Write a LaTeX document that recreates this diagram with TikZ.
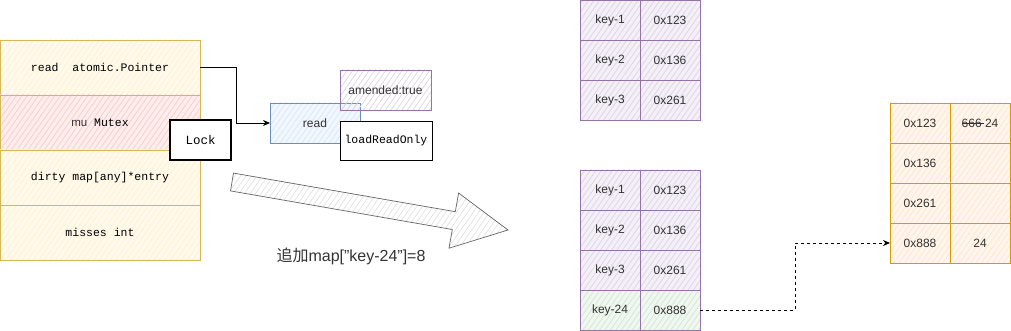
\documentclass[tikz,border=0pt]{standalone}
\usepackage{fontspec}
\setmainfont{Liberation Sans}
\setmonofont{Liberation Mono}
\newfontfamily\cjk{Noto Sans CJK SC}
\usetikzlibrary{arrows.meta,patterns.meta}
\definecolor{ystroke}{HTML}{D6B656}
\definecolor{yfill}{HTML}{FFF2CC}
\definecolor{rfill}{HTML}{F8CECC}
\definecolor{pstroke}{HTML}{9673A6}
\definecolor{pfill}{HTML}{E1D5E7}
\definecolor{bstroke}{HTML}{6C8EBF}
\definecolor{bfill}{HTML}{DAE8FC}
\definecolor{ostroke}{HTML}{D79B00}
\definecolor{ofill}{HTML}{FFE6CC}
\definecolor{gfill}{HTML}{D5E8D4}
\definecolor{txt}{HTML}{333333}
\tikzset{
  hatch/.style={preaction={fill=#1!35!white}, pattern={Lines[angle=55,distance=4.5pt,line width=0.8pt]}, pattern color=#1},
  cell/.style={draw, rectangle, inner sep=0pt, outer sep=0pt, line width=0.9pt, text=txt,
    font=\fontsize{12}{14}\selectfont},
  srow/.style={cell, draw=ystroke, hatch=yfill, minimum width=200pt, minimum height=55pt,
    font=\ttfamily\fontsize{11.5}{14}\selectfont, text=black},
  pcell/.style={cell, draw=pstroke, hatch=pfill, minimum width=60pt, minimum height=40pt},
  ocell/.style={cell, draw=ostroke, hatch=ofill, minimum width=60pt, minimum height=40pt},
  blk/.style={cell, draw=black, fill=white, line width=1.1pt, text=black,
    font=\ttfamily\fontsize{11.5}{14}\selectfont},
  conn/.style={line width=0.8pt, -{Stealth[length=7pt,width=6pt]}},
}
\begin{document}
\begin{tikzpicture}[x=1pt,y=-1pt]
\useasboundingbox (0,0) rectangle (1011,331);
% left struct
\node[srow] (r1) at (100,67.5) {read\ \ atomic.Pointer};
\node[srow, hatch=rfill] (r2) at (100,122.5) {{\rmfamily\color{txt} mu} Mutex};
\node[srow] (r3) at (100,177.5) {dirty map[any]*entry};
\node[srow] (r4) at (100,232.5) {misses int};
\node[blk, minimum width=61pt, minimum height=40pt, font=\ttfamily\fontsize{12.5}{14}\selectfont] (lock) at (200.5,140) {Lock};
% read group
\node[cell, draw=bstroke, hatch=bfill, minimum width=90pt, minimum height=40pt, text=txt] (rd) at (315,123) {read};
\node[cell, draw=pstroke, pattern={Lines[angle=55,distance=4.5pt,line width=0.8pt]}, pattern color=pfill, minimum width=91pt, minimum height=40pt, text=txt] (am) at (385.5,90) {amended:true};
\node[blk, minimum width=92pt, minimum height=39pt, line width=0.9pt] (lro) at (386,140.5) {loadReadOnly};
\draw[conn] (r1.east) -- ++(36,0) |- (rd.west);
% big arrow
\draw[gray!80!black, line width=0.7pt, preaction={fill=white}, pattern={Lines[angle=55,distance=4.5pt,line width=0.6pt]}, pattern color=gray!25]
  (233.5,173.1) -- (455.3,211.7) -- (458.6,193) -- (508,230) -- (449,248.2) -- (452.3,229.5) -- (230.5,190.9) -- cycle;
\node[font=\fontsize{16}{18}\selectfont, text=txt] (lbl) at (351,256) {{\cjk 追加}map["key-24"]=8};
% top table
\node[pcell] (a1k) at (610,20) {key-1};
\node[pcell] (a1v) at (670,20) {0x123};
\node[pcell] (a2k) at (610,60) {key-2};
\node[pcell] (a2v) at (670,60) {0x136};
\node[pcell] (a3k) at (610,100) {key-3};
\node[pcell] (a3v) at (670,100) {0x261};
% bottom table
\node[pcell] (b1k) at (610,190) {key-1};
\node[pcell] (b1v) at (670,190) {0x123};
\node[pcell] (b2k) at (610,230) {key-2};
\node[pcell] (b2v) at (670,230) {0x136};
\node[pcell] (b3k) at (610,270) {key-3};
\node[pcell] (b3v) at (670,270) {0x261};
\node[pcell, hatch=gfill] (b4k) at (610,310) {key-24};
\node[pcell, hatch=gfill] (b4v) at (670,310) {0x888};
% right table
\node[ocell] (c1a) at (920,123) {0x123};
\node[ocell] (c1b) at (980,123) {\makebox[0pt][l]{\rule[0.3em]{22pt}{0.7pt}}666\ 24};
\node[ocell] (c2a) at (920,163) {0x136};
\node[ocell] (c2b) at (980,163) {};
\node[ocell] (c3a) at (920,203) {0x261};
\node[ocell] (c3b) at (980,203) {};
\node[ocell] (c4a) at (920,243) {0x888};
\node[ocell] (c4b) at (980,243) {24};
\draw[conn, dashed, line width=0.8pt] (b4v.east) -- ++(95,0) |- (c4a.west);
\end{tikzpicture}
\end{document}
